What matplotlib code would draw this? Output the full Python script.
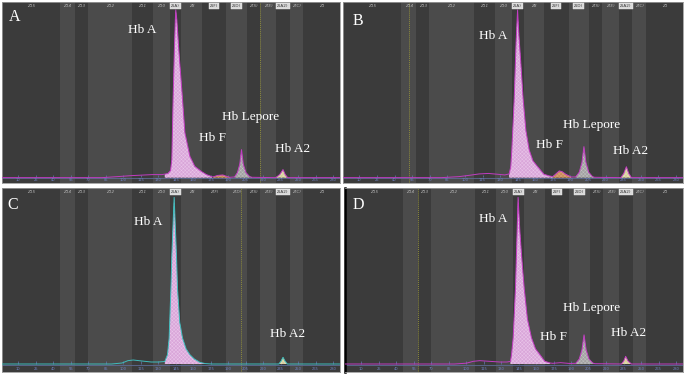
import numpy as np
import matplotlib
matplotlib.use("Agg")
from matplotlib import pyplot as plt

# ===== Dados (mobilidade x absorbância relativa, Hb A = 100) =====

zone_edges = [-4, 45.7, 58.6, 69.7, 107.5, 125.4, 140, 150, 167.2, 188.6,
              205.8, 217.2, 231.5, 242.9, 254.3, 286]
zone_names = ["Z15", "Z14", "Z13", "Z12", "Z11", "Z10", "Z(A)", "Z8", "Z(F)",
              "Z(D)", "Z(S)", "Z(E)", "Z(A2)", "Z(C)", "Z1"]
tick_values = list(range(10, 281, 15))

trace_A_x = [-4, 82, 95, 107, 125, 133, 135.7, 138.3, 140.6, 141.7, 142.8, 143.9,
             144.7, 145.1, 146, 147.7, 150.9, 152.9, 157.2, 161.4, 167.2, 171.4,
             176, 177, 181, 185.4, 188.9, 191.4, 195.5, 198, 200, 201.5, 203,
             205.3, 208.5, 210.5, 230.8, 234.3, 237.1, 239, 241.1, 286]
trace_A_y = [0, 0, 0.6, 1.2, 1.8, 1.8, 2.1, 2.4, 4.2, 10.7, 46.4, 76,
             94, 100, 94, 76, 46.4, 26.8, 12.7, 6.7, 3.6, 1.8,
             0.6, 0.4, 1.3, 1.6, 0.7, 0.2, 0.4, 3, 8, 16.7, 8,
             3, 0.6, 0.2, 0, 1.8, 4.8, 1.8, 0, 0]

trace_B_x = [-4, 80, 95, 105, 112, 120, 128, 134, 137.7, 139.1, 140, 142, 143.6,
             144.9, 146, 147.5, 149.7, 152, 154.8, 158, 162, 167.4, 172, 175,
             178, 180.5, 183, 186, 190.6, 194.5, 197.5, 199.8, 201.5, 203.2,
             205.6, 208.8, 210.5, 233, 235.5, 237.7, 239.7, 242, 286]
trace_B_y = [0, 0, 0.6, 1.5, 2.2, 2.5, 2, 1.6, 2.2, 6.5, 16.5, 46.3, 80,
             100, 85, 70, 46.3, 28, 16.5, 10, 6.5, 2, 1, 0.6,
             2.5, 4, 3.5, 2, 0.4, 0.4, 3.2, 9, 18.5, 9,
             3.2, 0.6, 0.2, 0, 2.5, 6.5, 2.5, 0, 0]

trace_C_x = [-4, 90, 99, 104, 108.6, 116, 124, 130, 135.7, 138, 139.4, 140.9,
             141.7, 143.7, 145.7, 146.6, 148.5, 150.9, 154, 157.2, 161, 165.7,
             170, 176, 233.5, 235.5, 237.1, 238.8, 240.8, 286]
trace_C_y = [0, 0, 0.6, 2, 2.4, 1.8, 1.2, 1.2, 1.5, 5.6, 15.5, 45,
             65, 100, 65, 45, 25, 15.5, 9, 5.6, 3, 1,
             0.3, 0, 0, 1.8, 4, 1.8, 0, 0]

trace_D_x = [-4, 90, 100.3, 106, 111.7, 118, 128.9, 135, 138, 138.9, 140.3,
             142.3, 144.5, 146, 147.5, 149.7, 152.5, 156, 159.5, 163.2, 167.4,
             172, 174.3, 181, 188.9, 194, 197, 199.3, 201.1, 202.9, 205.3,
             208.5, 210.3, 233.2, 235.2, 236.8, 238.8, 241.7, 286]
trace_D_y = [0, 0, 0.5, 1.6, 2, 1.7, 1.2, 1.2, 1.6, 5.6, 15.7,
             45.8, 100, 80, 65, 45.8, 27, 15.7, 9, 5.6, 1.6,
             0.6, 0.4, 0.8, 0.3, 0.4, 3, 8.5, 17.5, 8.5, 3,
             0.6, 0.2, 0, 1.8, 4.6, 1.8, 0, 0]

fractions_A = {"Hb A": (135, 176), "Hb F": (176.5, 191.5),
               "Hb Lepore": (195.5, 210.5), "Hb A2": (230.8, 241.1)}
fractions_B = {"Hb A": (137.7, 175), "Hb F": (175, 190.6),
               "Hb Lepore": (194.5, 210.5), "Hb A2": (233, 242)}
fractions_C = {"Hb A": (135.7, 170), "Hb A2": (233.5, 240.8)}
fractions_D = {"Hb A": (138, 172), "Hb Lepore": (194, 210.3),
               "Hb A2": (233.2, 241.7)}

# ===== Estilo =====

fill_colors = {"Hb A": ("#d9a6d9", "#ecc9ec"),
               "Hb F": ("#c98a5a", "#dcaa80"),
               "Hb Lepore": ("#a2a2a2", "#c4c4c4"),
               "Hb A2": ("#d6cf9c", "#e8e2bc")}

# painel: (retângulo em px [esq, topo, dir, baixo], traço, frações, cor da linha,
#          zonas destacadas, linha pontilhada, ylim, rótulos)
panels = {
    "A": ((2, 2, 340, 183), (trace_A_x, trace_A_y), fractions_A, "#c23cc2",
          [6, 8, 9, 12], 217.1, (-3.2, 104.7),
          [("A", 0.038, 0.915, 11.5), ("Hb A", 0.416, 0.845, 9.5),
           ("Hb Lepore", 0.734, 0.365, 9.5), ("Hb F", 0.623, 0.249, 9.5),
           ("Hb A2", 0.859, 0.188, 9.5)]),
    "B": ((343, 2, 683, 183), (trace_B_x, trace_B_y), fractions_B, "#c23cc2",
          [6, 8, 9, 12], 52.6, (-3.2, 104.7),
          [("B", 0.044, 0.895, 11.5), ("Hb A", 0.441, 0.812, 9.5),
           ("Hb Lepore", 0.730, 0.322, 9.5), ("Hb F", 0.607, 0.208, 9.5),
           ("Hb A2", 0.846, 0.177, 9.5)]),
    "C": ((2, 188, 340, 372), (trace_C_x, trace_C_y), fractions_C, "#3fbdbd",
          [6, 12], 201.4, (-4.8, 105.6),
          [("C", 0.0325, 0.905, 11.5), ("Hb A", 0.432, 0.815, 9.5),
           ("Hb A2", 0.846, 0.208, 9.5)]),
    "D": ((345, 188, 683, 372), (trace_D_x, trace_D_y), fractions_D, "#c23cc2",
          [6, 8, 9, 12], 58.3, (-4.8, 105.6),
          [("D", 0.039, 0.908, 11.5), ("Hb A", 0.438, 0.832, 9.5),
           ("Hb Lepore", 0.729, 0.349, 9.5), ("Hb F", 0.616, 0.192, 9.5),
           ("Hb A2", 0.840, 0.210, 9.5)]),
}

plt.rcParams["hatch.linewidth"] = 0.3
W, H = 685, 374
fig = plt.figure(figsize=(W / 100, H / 100), dpi=100)
fig.patch.set_facecolor("white")

for nome, (rect, (tx, ty), fracs, linecolor, boxed, dotted, ylim, labels) in panels.items():
    l, t, r, b = rect
    ax = fig.add_axes([l / W, 1 - b / H, (r - l) / W, (b - t) / H])
    ax.set_xlim(zone_edges[0], zone_edges[-1])
    ax.set_ylim(*ylim)
    ax.set_xticks([])
    ax.set_yticks([])
    for s in ax.spines.values():
        s.set_color("#9a9a9a")
        s.set_linewidth(0.6)
    if nome == "D":
        ax.spines["left"].set_color("black")
        ax.spines["left"].set_linewidth(1.8)

    # zonas
    for i in range(len(zone_names)):
        cor = "#3b3b3b" if i % 2 == 0 else "#4b4b4b"
        ax.axvspan(zone_edges[i], zone_edges[i + 1], color=cor, lw=0, zorder=0)
        xm = (zone_edges[i] + zone_edges[i + 1]) / 2
        if i in boxed:
            ax.text(xm, ylim[1] - 2.6, zone_names[i], fontsize=3, color="#333333",
                    ha="center", va="center", zorder=5,
                    bbox=dict(boxstyle="square,pad=0.25", fc="#d9d9d9", ec="#eeeeee", lw=0.3))
        else:
            ax.text(xm, ylim[1] - 2.6, zone_names[i], fontsize=3, color="#b5b5b5",
                    ha="center", va="center", style="italic", zorder=5)

    ax.axvline(dotted, color="#8c8a3c", lw=0.7, ls=(0, (1, 1)), zorder=1)

    # eixo de mobilidade
    ax.axhline(-0.35, color="#5d6c95", lw=0.6, zorder=2)
    ax.vlines(tick_values, 0.3, 1.8, color="#6476b0", lw=0.5, zorder=2)
    for v in tick_values:
        ax.text(v, ylim[0] + 1.6, str(v), fontsize=2.6, color="#6f82c2",
                ha="center", va="center", zorder=2)

    x = np.array(tx)
    y = np.array(ty)
    for frac, (a, c) in fracs.items():
        fc, hc = fill_colors[frac]
        m = (x >= a) & (x <= c)
        ax.fill_between(x[m], 0, y[m], facecolor=fc, edgecolor=hc, hatch="xxxxxxxxx",
                        lw=0, zorder=3)
    ax.plot(x, y, color=linecolor, lw=0.7, zorder=4)

    for txt, fx, fy, fs in labels:
        ax.text(fx, fy, txt, transform=ax.transAxes, fontsize=fs, color="white",
                family="Liberation Serif", ha="center", va="center", zorder=6)

fig.savefig("out.png", dpi=100, facecolor="white")
